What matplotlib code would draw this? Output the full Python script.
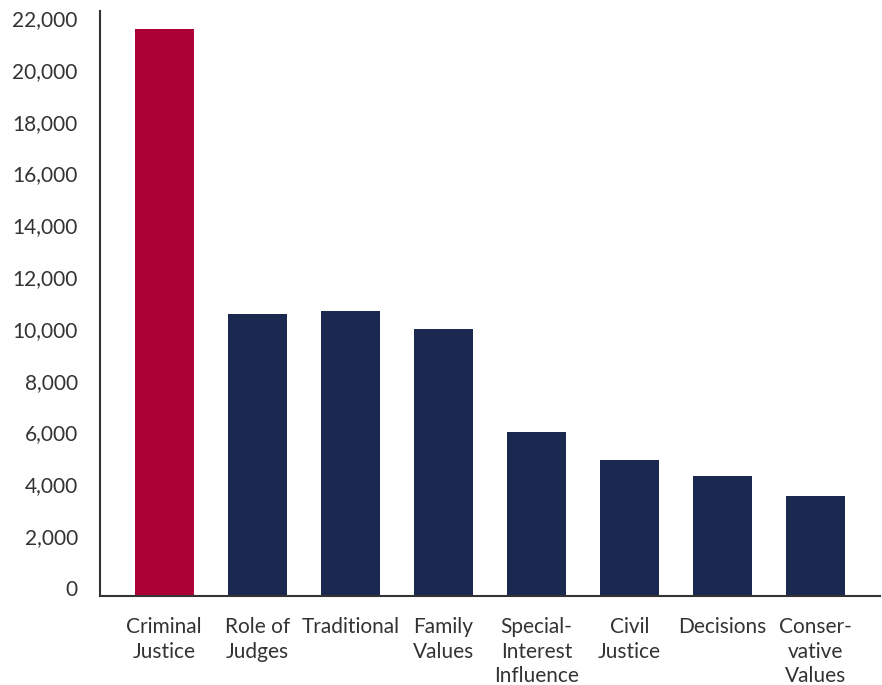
import matplotlib
matplotlib.use("Agg")
import matplotlib.pyplot as plt
from matplotlib.transforms import ScaledTranslation

categories = ["Criminal\nJustice", "Role of\nJudges", "Traditional", "Family\nValues",
              "Special-\nInterest\nInfluence", "Civil\nJustice", "Decisions", "Conser-\nvative\nValues"]
values = [21890, 10890, 11000, 10310, 6330, 5250, 4630, 3860]
colors = ["#AD0037"] + ["#1B2850"] * 7
yticks = list(range(0, 22001, 2000))

plt.rcParams['font.family'] = ['Lato', 'DejaVu Sans']
fig = plt.figure(figsize=(8.82, 6.85), dpi=100)
ax = fig.add_axes([100/882, 1-596/685, 780/882, 585/685])
x = list(range(len(categories)))
ax.bar(x, values, width=0.635, color=colors, zorder=2)
ax.set_xlim(-0.69, len(categories) - 1 + 0.69)
ax.set_ylim(0, 22580)
ax.set_yticks(yticks)
ax.set_yticklabels([f"{v:,}" for v in yticks])
ax.set_xticks(x)
ax.set_xticklabels(categories, linespacing=1.3)
for s in ["top", "right"]:
    ax.spines[s].set_visible(False)
for s in ["left", "bottom"]:
    ax.spines[s].set_color("#333333")
    ax.spines[s].set_linewidth(1.5)
ax.tick_params(axis="y", length=0, pad=16, labelsize=15, labelcolor="#333333")
ax.tick_params(axis="x", length=0, pad=15, labelsize=15, labelcolor="#333333")
off = ScaledTranslation(0, 0.08, fig.dpi_scale_trans)
for lab in ax.get_yticklabels():
    lab.set_transform(lab.get_transform() + off)
for lab in ax.get_xticklabels():
    lab.set_verticalalignment("top")
fig.savefig("out.png", dpi=100)
